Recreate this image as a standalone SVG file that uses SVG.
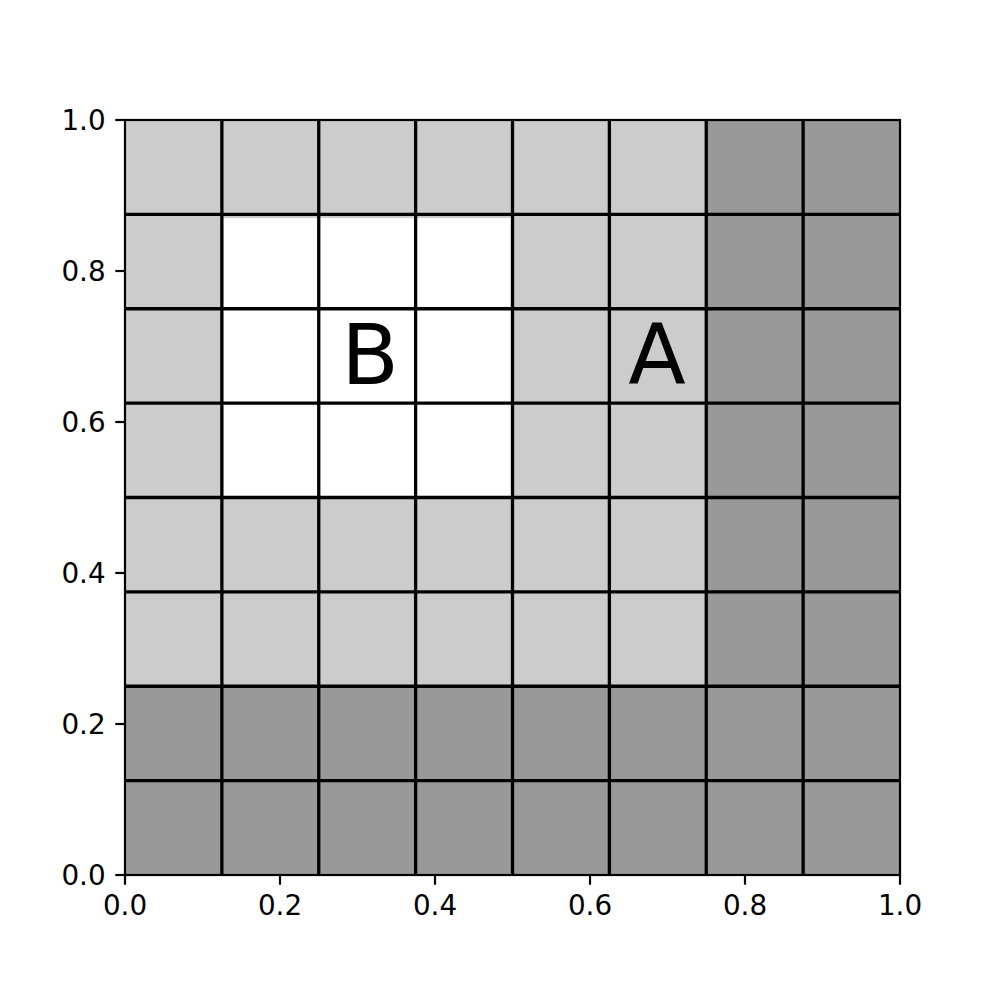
<svg xmlns="http://www.w3.org/2000/svg" width="1000" height="1000" viewBox="0 0 1000 1000">
<style>
.lt{fill:#cccccc}
.dk{fill:#999999}
.wh{fill:#ffffff}
.grid line{stroke:#000;stroke-width:3.3}
.tick{stroke:#000;stroke-width:2.2}
.tl{font-family:"DejaVu Sans",sans-serif;font-size:27.8px;fill:#000}
.big{font-family:"DejaVu Sans",sans-serif;font-size:84px;fill:#000;text-anchor:middle}
</style>
<rect width="1000" height="1000" fill="#fff"/>
<g id="regions">
<rect id="base" class="lt" x="125" y="120" width="775" height="755"/>
<rect id="dark-right" class="dk" x="706.25" y="120" width="193.75" height="755"/>
<rect id="dark-bottom" class="dk" x="125" y="686.25" width="775" height="188.75"/>
<rect id="white-B" class="wh" x="221.875" y="218.15" width="290.625" height="279.35"/>
</g>
<g id="connectors" class="grid">
<line x1="221.875" y1="120" x2="221.875" y2="875"/>
<line x1="318.75" y1="120" x2="318.75" y2="875"/>
<line x1="415.625" y1="120" x2="415.625" y2="875"/>
<line x1="512.5" y1="120" x2="512.5" y2="875"/>
<line x1="609.375" y1="120" x2="609.375" y2="875"/>
<line x1="706.25" y1="120" x2="706.25" y2="875"/>
<line x1="803.125" y1="120" x2="803.125" y2="875"/>
<line x1="125" y1="214.375" x2="900" y2="214.375"/>
<line x1="125" y1="308.75" x2="900" y2="308.75"/>
<line x1="125" y1="403.125" x2="900" y2="403.125"/>
<line x1="125" y1="497.5" x2="900" y2="497.5"/>
<line x1="125" y1="591.875" x2="900" y2="591.875"/>
<line x1="125" y1="686.25" x2="900" y2="686.25"/>
<line x1="125" y1="780.625" x2="900" y2="780.625"/>
</g>
<rect x="125" y="120" width="775" height="755" fill="none" stroke="#000" stroke-width="2.2"/>
<g id="labels">
<text class="big" x="370" y="384">B</text>
<text class="big" x="657" y="384">A</text>
</g>
<g id="axes">
<g class="tick">
<line x1="125" y1="875" x2="125" y2="884.7"/>
<line x1="280" y1="875" x2="280" y2="884.7"/>
<line x1="435" y1="875" x2="435" y2="884.7"/>
<line x1="590" y1="875" x2="590" y2="884.7"/>
<line x1="745" y1="875" x2="745" y2="884.7"/>
<line x1="900" y1="875" x2="900" y2="884.7"/>
<line x1="115.3" y1="875" x2="125" y2="875"/>
<line x1="115.3" y1="724" x2="125" y2="724"/>
<line x1="115.3" y1="573" x2="125" y2="573"/>
<line x1="115.3" y1="422" x2="125" y2="422"/>
<line x1="115.3" y1="271" x2="125" y2="271"/>
<line x1="115.3" y1="120" x2="125" y2="120"/>
</g>
<g class="tl" text-anchor="middle">
<text x="125" y="915">0.0</text>
<text x="280" y="915">0.2</text>
<text x="435" y="915">0.4</text>
<text x="590" y="915">0.6</text>
<text x="745" y="915">0.8</text>
<text x="900" y="915">1.0</text>
</g>
<g class="tl" text-anchor="end">
<text x="105.6" y="885">0.0</text>
<text x="105.6" y="734">0.2</text>
<text x="105.6" y="583">0.4</text>
<text x="105.6" y="432">0.6</text>
<text x="105.6" y="281">0.8</text>
<text x="105.6" y="130">1.0</text>
</g>
</g>
</svg>
